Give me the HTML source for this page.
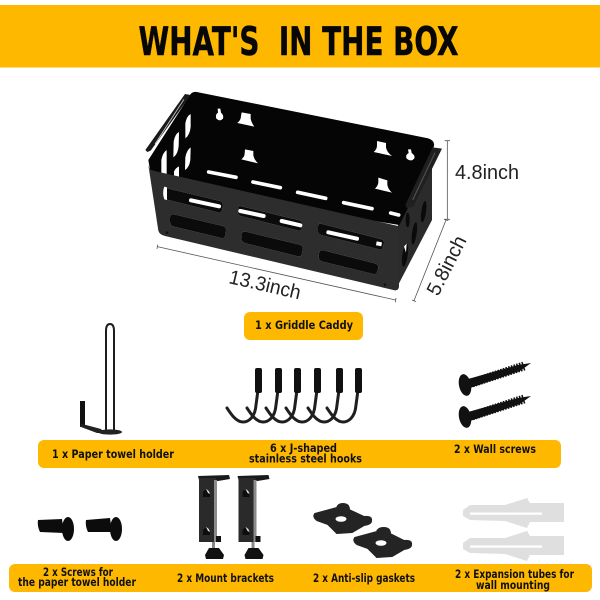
<!DOCTYPE html>
<html>
<head>
<meta charset="utf-8">
<style>
html,body{margin:0;padding:0;background:#fff;width:600px;height:600px;overflow:hidden}
svg{display:block;filter:blur(.3px)}
.l{font-family:"DejaVu Sans","Liberation Sans",sans-serif;font-weight:bold;font-size:11.5px;fill:#111;text-anchor:start}
.d{font-family:"Liberation Sans",sans-serif;fill:#222}
</style>
</head>
<body>
<svg width="600" height="600" viewBox="0 0 600 600" xmlns="http://www.w3.org/2000/svg">
<rect width="600" height="600" fill="#fff"/>
<rect x="0" y="5" width="600" height="62.5" fill="#FFB800"/>
<text x="138.5" y="55" font-family="'DejaVu Sans','Liberation Sans',sans-serif" font-weight="bold" font-size="39" fill="#070707" stroke="#070707" stroke-width=".5" textLength="320" lengthAdjust="spacingAndGlyphs" xml:space="preserve">WHAT'S  IN THE BOX</text>

<!-- caddy -->
<g transform="translate(130 70) scale(.33333)">
  <!-- side panel -->
  <path d="M795,663 L804,460 L906,240 L906,450 Z" fill="#2b2b2b"/>
  <g fill="#0a0a0a">
    <ellipse cx="881" cy="425" rx="7" ry="32" transform="rotate(8 881 425)"/>
    <ellipse cx="853" cy="490" rx="7" ry="34" transform="rotate(8 853 490)"/>
    <ellipse cx="825" cy="555" rx="8" ry="35" transform="rotate(8 825 555)"/>
    <ellipse cx="833" cy="450" rx="6" ry="22"/>
  </g>
  <path d="M822,530 L830,520 L828,548 Z" fill="#fff"/>
  <!-- inner silhouette -->
  <path d="M55,270 L178,78 Q185,64 200,66 L895,205 Q915,212 912,228 L836,410 L808,465 L400,400 L60,300 Z" fill="#050505"/>
  <!-- left handle -->
  <path d="M46,240 L165,72 L182,75 L62,242 L52,246 Z" fill="#1a1a1a"/>
  <path d="M75,222 L162,88" stroke="#cfcfcf" stroke-width="2.5" fill="none"/>
  <!-- right handle -->
  <path d="M908,232 L936,236 L850,410 L830,414 L826,405 Z" fill="#202020"/>
  <path d="M915,248 L848,390" stroke="#555" stroke-width="3" fill="none"/>
  <!-- left white slots -->
  <g fill="#fff">
    <path d="M166,205 L166,160 Q170,138 182,132 L182,170 Q180,195 166,205Z"/>
    <path d="M130,262 L131,215 Q135,192 147,186 L146,228 Q144,252 130,262Z"/>
    <path d="M94,325 L94,270 Q98,248 110,240 L110,322 Z"/>
    <path d="M165,300 L166,262 Q170,240 182,232 L181,270 Q178,292 165,300Z"/>
    <path d="M132,322 L132,305 Q136,294 147,289 L147,325Z"/>
    <path d="M96,365 Q97,352 110,348 L110,392 Q98,388 96,365Z"/>
  </g>
  <!-- back slots -->
  <g stroke="#fff" stroke-width="11" stroke-linecap="round" fill="none">
    <path d="M236,306 L318,322"/>
    <path d="M369,336 L451,353"/>
    <path d="M503,367 L587,385"/>
    <path d="M641,398 L726,416"/>
    <path d="M782,429 L806,435"/>
  </g>
  <!-- keyholes and T-slots -->
  <g fill="#fff">
    <path d="M263,116 L271,116 L273,128 Q282,136 279,146 Q270,156 259,146 Q255,134 264,128 Z"/>
    <path d="M834,238 L843,238 L845,249 Q856,256 853,265 Q843,277 830,266 Q825,255 836,249 Z"/>
    <path d="M335,127 L362,132 L362,146 Q364,158 373,170 L322,159 Q333,150 333,138 Z"/>
    <path d="M345,238 L370,243 L370,256 Q372,268 384,280 L334,268 Q344,260 344,250 Z"/>
    <path d="M741,213 L768,219 L768,232 Q770,246 786,258 L731,246 Q741,238 741,226 Z"/>
    <path d="M745,323 L772,331 L772,344 Q774,358 786,368 L735,356 Q745,346 745,336 Z"/>
  </g>
  <!-- front panel -->
  <path fill-rule="evenodd" fill="#2d2d2d" d="M55,285 L60,300 L804,468 L807,650 Q806,664 790,660 L105,498 Q88,494 85,482 Z
   M100,352 L270,393 Q279,396 279,405 L276,420 Q274,430 264,427 L108,388 Q100,386 100,378 Z
   M326,407 L508,451 Q517,454 516,462 L515,475 Q514,484 505,482 L332,438 Q324,436 324,428 Z
   M572,461 L755,508 Q763,511 762,519 L758,532 Q756,540 748,538 L574,495 Q564,492 564,484 L564,470 Q564,460 572,461 Z
   M132,433 L278,468 Q289,471 288,482 L286,495 Q284,506 274,504 L132,470 Q120,467 120,455 L120,444 Q120,431 132,433 Z
   M347,485 L508,524 Q519,527 518,537 L516,550 Q514,561 504,559 L347,520 Q334,516 334,505 L334,496 Q334,483 347,485 Z
   M580,541 L734,580 Q746,583 745,594 L742,604 Q740,614 730,612 L578,575 Q566,572 566,561 L567,551 Q568,538 580,541 Z"/>
  <g fill="#0b0b0b">
    <path d="M132,433 L278,468 Q289,471 288,482 L286,495 Q284,506 274,504 L132,470 Q120,467 120,455 L120,444 Q120,431 132,433 Z"/>
    <path d="M347,485 L508,524 Q519,527 518,537 L516,550 Q514,561 504,559 L347,520 Q334,516 334,505 L334,496 Q334,483 347,485 Z"/>
    <path d="M580,541 L734,580 Q746,583 745,594 L742,604 Q740,614 730,612 L578,575 Q566,572 566,561 L567,551 Q568,538 580,541 Z"/>
    <path d="M100,352 L270,393 Q279,396 279,405 L276,420 Q274,430 264,427 L108,388 Q100,386 100,378 Z"/>
    <path d="M326,407 L508,451 Q517,454 516,462 L515,475 Q514,484 505,482 L332,438 Q324,436 324,428 Z"/>
    <path d="M572,461 L755,508 Q763,511 762,519 L758,532 Q756,540 748,538 L574,495 Q564,492 564,484 L564,470 Q564,460 572,461 Z"/>
  </g>
  <g stroke="#fff" stroke-width="12" stroke-linecap="round" fill="none">
    <path d="M183,391 L267,409"/>
    <path d="M331,423 L401,438"/>
    <path d="M455,453 L511,466"/>
    <path d="M595,487 L681,506"/>
    <path d="M739,520 L755,523" stroke-linecap="butt"/>
  </g>
  <path d="M103,350 Q96,368 103,388 L111,390 L111,352 Z" fill="#fff"/>
  <circle cx="111" cy="488" r="4" fill="#111"/>
  <circle cx="765" cy="644" r="4" fill="#111"/>
  <!-- dimension lines -->
  <g stroke="#555" stroke-width="2.4" fill="none">
    <path d="M952,212 L952,448 M944,212 L960,212 M944,448 L960,448"/>
    <path d="M82,530 L797,690 M83,524 L81,537 M798,684 L796,697"/>
    <path d="M948,450 L852,692 M942,448 L955,452 M846,690 L858,695"/>
  </g>
</g>
<text class="d" font-size="20" transform="translate(228 283) rotate(13)" textLength="73" lengthAdjust="spacingAndGlyphs">13.3inch</text>
<text class="d" x="455" y="179" font-size="20" textLength="64" lengthAdjust="spacingAndGlyphs">4.8inch</text>
<text class="d" font-size="20" transform="translate(438 297) rotate(-63)" textLength="64" lengthAdjust="spacingAndGlyphs">5.8inch</text>

<!-- bars -->
<rect x="244" y="312" width="119" height="28" rx="6" fill="#FFB800"/>
<rect x="38" y="440" width="523" height="28" rx="6" fill="#FFB800"/>
<rect x="9" y="564" width="583" height="28" rx="6" fill="#FFB800"/>

<!-- paper towel holder -->
<g>
  <path d="M106,431 L106,331 Q106,324 110,324 Q114,324 114,331 L114,431" fill="none" stroke="#1c1c1c" stroke-width="2"/>
  <path d="M80,401 L85,401 L85,426 L80,427 Z" fill="#111"/>
  <path d="M81,424 L86,425 L101,429 L104,433 L97,433 L81,427 Z" fill="#222"/>
  <ellipse cx="110" cy="432" rx="12" ry="2.6" fill="#222"/>
</g>

<!-- hooks -->
<g fill="none" stroke="#1f1f1f" stroke-width="3" stroke-linecap="round">
  <path d="M258,390 L256,405 C255,418 248,422 243,422 C236,422 231,414 227,408"/>
  <path d="M278,390 L276,405 C275,418 268,422 263,422 C256,422 251,414 247,408"/>
  <path d="M297,390 L295,405 C294,418 287,422 282,422 C275,422 270,414 266,408"/>
  <path d="M317,390 L315,405 C314,418 307,422 302,422 C295,422 290,414 286,408"/>
  <path d="M339,390 L337,405 C336,418 329,422 324,422 C317,422 312,414 308,408"/>
  <path d="M358,390 L356,405 C355,418 348,422 343,422 C336,422 331,414 327,408"/>
</g>
<g fill="#111">
  <rect x="255" y="368" width="7" height="25" rx="2"/>
  <rect x="275" y="368" width="7" height="25" rx="2"/>
  <rect x="294" y="368" width="7" height="25" rx="2"/>
  <rect x="314" y="368" width="7" height="25" rx="2"/>
  <rect x="336" y="368" width="7" height="25" rx="2"/>
  <rect x="355" y="368" width="7" height="25" rx="2"/>
</g>

<!-- wall screws -->
<g fill="#111">
  <path d="M468,379 L518,365 L531,363 L520,371 L470,388 Z"/>
  <path d="M468,412 L518,398 L531,396 L520,404 L470,421 Z"/>
</g>
<g fill="none" stroke="#111">
  <path d="M472,383 L524,366" stroke-width="9" stroke-dasharray="1.6 1.2"/>
  <path d="M472,416 L524,399" stroke-width="9" stroke-dasharray="1.6 1.2"/>
</g>
<ellipse cx="465" cy="385" rx="6" ry="11" fill="#111" transform="rotate(-12 465 385)"/>
<ellipse cx="465" cy="417" rx="6" ry="11" fill="#111" transform="rotate(-12 465 417)"/>

<!-- small screws -->
<g fill="#0c0c0c">
  <path d="M38,520 L62,519 L64,533 L40,532 Q37,526 38,520 Z"/>
  <path d="M86,520 L110,518 L112,532 L88,532 Q85,526 86,520 Z"/>
  <ellipse cx="68" cy="529" rx="6" ry="12"/>
  <ellipse cx="116" cy="529" rx="6" ry="12"/>
</g>

<!-- brackets -->
<g>
  <path d="M198,476 L229,475 L230,479 L218,481 L199,480 Z" fill="#1a1a1a"/>
  <rect x="199" y="478" width="17" height="64" fill="#2a2a2a"/>
  <rect x="214" y="480" width="3" height="62" fill="#8a8a8a"/>
  <rect x="216" y="536" width="5" height="6" fill="#111"/>
  <path d="M203,492 Q208,486 210,494 L210,497 L203,497 Z" fill="#0d0d0d"/><path d="M206,489 Q209,490 210,494 L208,493 Z" fill="#ddd"/>
  <path d="M203,530 Q208,524 210,532 L210,535 L203,535 Z" fill="#0d0d0d"/><path d="M206,527 Q209,528 210,532 L208,531 Z" fill="#ddd"/>
  <rect x="212" y="542" width="3" height="7" fill="#888"/>
  <path d="M209,548 L219,548 L224,555 L223,559 L206,559 L205,555 Z" fill="#111"/>
</g>
<g transform="translate(39.5 0)">
  <path d="M198,476 L229,475 L230,479 L218,481 L199,480 Z" fill="#1a1a1a"/>
  <rect x="199" y="478" width="17" height="64" fill="#2a2a2a"/>
  <rect x="214" y="480" width="3" height="62" fill="#8a8a8a"/>
  <rect x="216" y="536" width="5" height="6" fill="#111"/>
  <path d="M203,492 Q208,486 210,494 L210,497 L203,497 Z" fill="#0d0d0d"/><path d="M206,489 Q209,490 210,494 L208,493 Z" fill="#ddd"/>
  <path d="M203,530 Q208,524 210,532 L210,535 L203,535 Z" fill="#0d0d0d"/><path d="M206,527 Q209,528 210,532 L208,531 Z" fill="#ddd"/>
  <rect x="212" y="542" width="3" height="7" fill="#888"/>
  <path d="M209,548 L219,548 L224,555 L223,559 L206,559 L205,555 Z" fill="#111"/>
</g>

<!-- gaskets -->
<g fill="#242424" stroke="#242424" stroke-width="2" stroke-linejoin="round">
  <path d="M315,514 L337,508 Q338,504 343,504 Q349,504 349,510 L364,517 Q372,516 371,521 Q371,524 364,525 L352,532 L337,533 L328,524 L317,520 Q313,517 315,514 Z"/>
  <path d="M355,538 L377,532 Q378,528 384,528 Q390,528 390,534 L404,541 Q412,540 411,545 Q411,548 404,549 L392,556 L377,557 L368,548 L357,544 Q353,541 355,538 Z"/>
</g>
<ellipse cx="341" cy="519" rx="5.5" ry="2.8" fill="#fff"/>
<ellipse cx="381" cy="543" rx="5.5" ry="2.8" fill="#fff"/>

<!-- tubes -->
<g fill="#dfdfdf">
  <path d="M564,503 L530,503 L527,498 L505,505 L470,505 L463,510 L463,516 L470,520 L505,521 L527,528 L530,522 L564,522 Z"/>
  <path d="M564,536 L530,536 L527,531 L505,538 L470,538 L463,543 L463,549 L470,553 L505,554 L527,561 L530,555 L564,555 Z"/>
</g>
<rect x="470" y="512.5" width="72" height="2.2" fill="#fff"/>
<rect x="470" y="545.5" width="72" height="2.2" fill="#fff"/>

<!-- labels -->
<text class="l" x="255" y="329" textLength="98" lengthAdjust="spacingAndGlyphs">1 x Griddle Caddy</text>
<text class="l" x="52" y="458" textLength="122" lengthAdjust="spacingAndGlyphs">1 x Paper towel holder</text>
<text class="l" x="270" y="452" textLength="67" lengthAdjust="spacingAndGlyphs">6 x J-shaped</text>
<text class="l" x="249" y="462.5" textLength="113" lengthAdjust="spacingAndGlyphs">stainless steel hooks</text>
<text class="l" x="454" y="453" textLength="82" lengthAdjust="spacingAndGlyphs">2 x Wall screws</text>
<text class="l" x="43" y="576" textLength="70" lengthAdjust="spacingAndGlyphs">2 x Screws for</text>
<text class="l" x="18" y="586" textLength="118" lengthAdjust="spacingAndGlyphs">the paper towel holder</text>
<text class="l" x="177" y="582" textLength="97" lengthAdjust="spacingAndGlyphs">2 x Mount brackets</text>
<text class="l" x="313" y="582" textLength="102" lengthAdjust="spacingAndGlyphs">2 x Anti-slip gaskets</text>
<text class="l" x="455" y="578" textLength="119" lengthAdjust="spacingAndGlyphs">2 x Expansion tubes for</text>
<text class="l" x="476" y="589" textLength="74" lengthAdjust="spacingAndGlyphs">wall mounting</text>
</svg>
</body>
</html>
